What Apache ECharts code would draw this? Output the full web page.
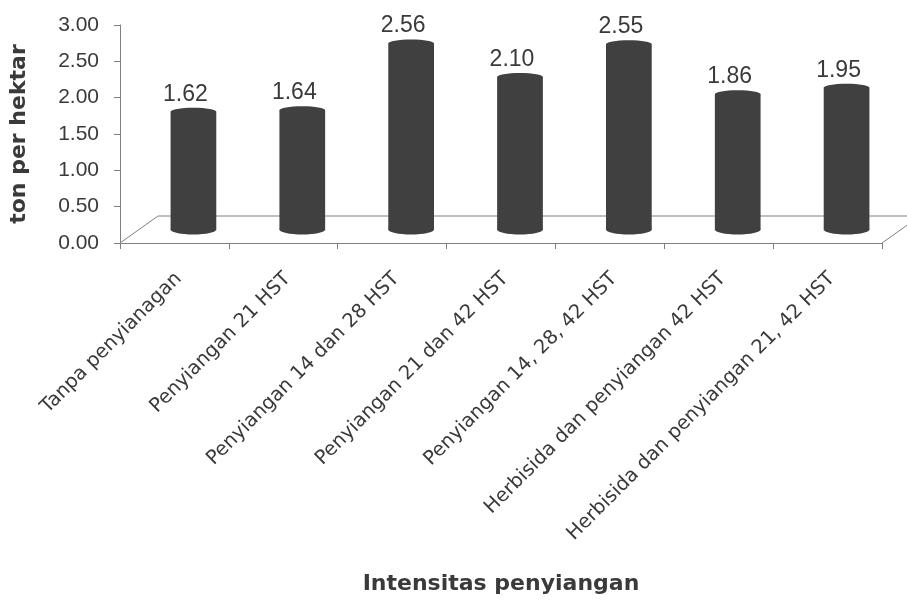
<!DOCTYPE html>
<html>
<head>
<meta charset="utf-8">
<script src="https://cdn.jsdelivr.net/npm/echarts@6/dist/echarts.min.js"></script>
<style>
  html, body { margin: 0; padding: 0; background: #ffffff; }
  #chart { width: 907px; height: 601px; }
</style>
</head>
<body>
<div id="chart"></div>
<script>
// Weeding treatments and grain yield (ton per hektar)
const categories = [
  'Tanpa penyianagan',
  'Penyiangan 21 HST',
  'Penyiangan 14 dan 28 HST',
  'Penyiangan 21 dan 42 HST',
  'Penyiangan 14, 28, 42 HST',
  'Herbisida dan penyiangan 42 HST',
  'Herbisida dan penyiangan 21, 42 HST'
];
const yields = [1.62, 1.64, 2.56, 2.10, 2.55, 1.86, 1.95];
const yMin = 0;
const yMax = 3;
const yStep = 0.5;
const xAxisTitle = 'Intensitas penyiangan';
const yAxisTitle = 'ton per hektar';

// Pseudo-3D floor depth and cylinder styling
const DEPTH_X = 38;
const DEPTH_Y = 27;
const BAR_COLOR = '#404040';
const LINE_COLOR = '#808080';
const TEXT_COLOR = '#3a3a3a';
const SANS = '"Liberation Sans", Arial, sans-serif';
const WIDE = '"DejaVu Sans", sans-serif';

const chart = echarts.init(document.getElementById('chart'), null, { renderer: 'canvas' });

// Floor of the plot: left edge, back edge and right edge (front edge is the x axis line)
function renderFloor(params, api) {
  const cs = params.coordSys;
  const x0 = cs.x, x1 = cs.x + cs.width, y0 = cs.y + cs.height;
  return {
    type: 'polyline',
    shape: { points: [[x0, y0], [x0 + DEPTH_X, y0 - DEPTH_Y], [x1 + DEPTH_X, y0 - DEPTH_Y], [x1, y0]] },
    style: { stroke: LINE_COLOR, lineWidth: 1, fill: null }
  };
}

// Cylinder standing in the middle of the floor depth, with its value above it
function renderCylinder(params, api) {
  const idx = api.value(0);
  const val = api.value(1);
  const base = api.coord([idx, 0]);
  const top = api.coord([idx, val]);
  const band = api.size([1, 0])[0];
  const rx = band * 0.21;
  const cx = base[0] + DEPTH_X / 2;
  const by = base[1] - DEPTH_Y / 2;
  const ty = top[1] - DEPTH_Y / 2;
  return {
    type: 'group',
    children: [
      { type: 'rect', shape: { x: cx - rx, y: ty, width: rx * 2, height: by - ty }, style: { fill: BAR_COLOR } },
      { type: 'ellipse', shape: { cx: cx, cy: by, rx: rx, ry: 5 }, style: { fill: BAR_COLOR } },
      { type: 'ellipse', shape: { cx: cx, cy: ty, rx: rx, ry: 4 }, style: { fill: BAR_COLOR } },
      {
        type: 'text',
        style: {
          text: val.toFixed(2), x: base[0] + 11, y: ty - 6,
          fill: TEXT_COLOR, fontSize: 23, fontFamily: SANS,
          align: 'center', verticalAlign: 'bottom'
        }
      }
    ]
  };
}

chart.setOption({
  animation: false,
  backgroundColor: '#ffffff',
  grid: { left: 119, right: 25, top: 25, bottom: 358, containLabel: false },
  xAxis: {
    type: 'category',
    data: categories,
    boundaryGap: true,
    axisLine: { show: true, lineStyle: { color: LINE_COLOR, width: 1 } },
    axisTick: { show: true, interval: 0, length: 6, lineStyle: { color: LINE_COLOR } },
    axisLabel: {
      interval: 0, rotate: 45, margin: 37,
      color: TEXT_COLOR, fontSize: 19.5, fontFamily: WIDE,
      padding: [0, -6, 0, 0]
    },
    name: xAxisTitle,
    nameLocation: 'middle',
    nameGap: 330,
    nameTextStyle: { color: TEXT_COLOR, fontSize: 22, fontWeight: 'bold', fontFamily: WIDE }
  },
  yAxis: {
    type: 'value',
    min: yMin, max: yMax, interval: yStep,
    axisLine: { show: true, lineStyle: { color: LINE_COLOR, width: 1 } },
    axisTick: { show: true, length: 6, lineStyle: { color: LINE_COLOR } },
    splitLine: { show: false },
    axisLabel: {
      margin: 21, color: TEXT_COLOR, fontSize: 21, fontFamily: SANS,
      formatter: v => v.toFixed(2)
    },
    name: yAxisTitle,
    nameLocation: 'middle',
    nameGap: 90,
    nameTextStyle: { color: TEXT_COLOR, fontSize: 22, fontWeight: 'bold', fontFamily: WIDE }
  },
  series: [
    { type: 'custom', name: 'floor', clip: false, z: 1, data: [[0, 0]], renderItem: renderFloor, silent: true },
    { type: 'custom', name: 'yield', clip: false, z: 3, data: yields.map((v, i) => [i, v]), renderItem: renderCylinder }
  ]
});
</script>
</body>
</html>
